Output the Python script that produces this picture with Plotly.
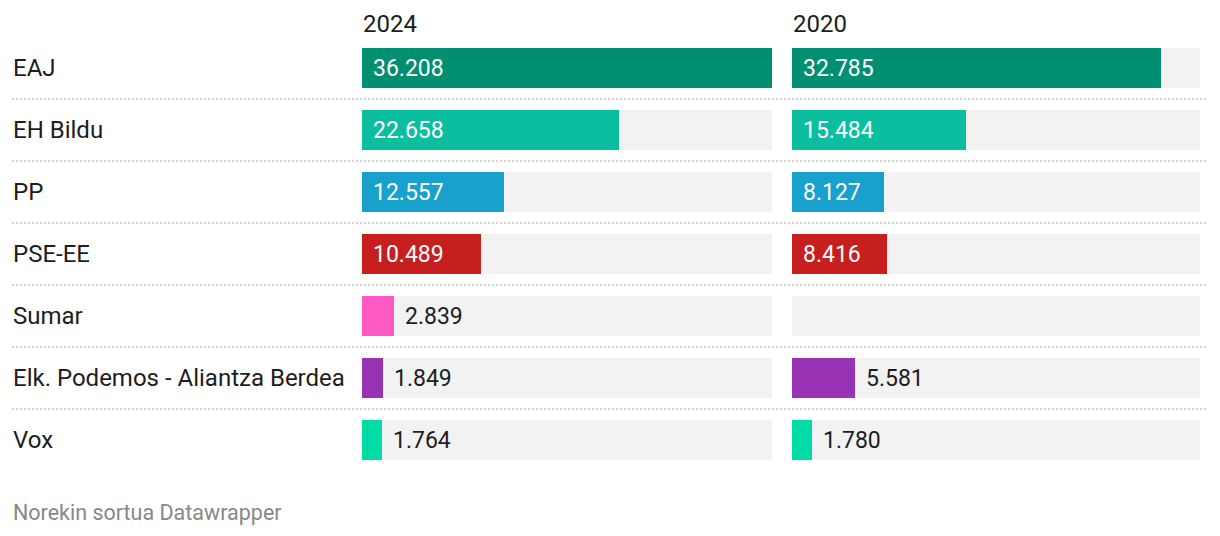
import plotly.graph_objects as go

parties = ["EAJ", "EH Bildu", "PP", "PSE-EE", "Sumar", "Elk. Podemos - Aliantza Berdea", "Vox"]
votes_2024 = [36208, 22658, 12557, 10489, 2839, 1849, 1764]
votes_2020 = [32785, 15484, 8127, 8416, None, 5581, 1780]
colors = ["#008f70", "#0bbea0", "#18a1cd", "#c71e1e", "#ff5ac4", "#9933b5", "#00dca6"]
years = ["2024", "2020"]
footer = "Norekin sortua Datawrapper"

OFF = 8  # page body margin
W, H = 1220 - OFF, 536 - OFF
FONT = "Roboto"
TXT = "#1d1d1d"
vmax = max(v for v in votes_2024 + votes_2020 if v is not None)

def px(x):
    return (x - OFF) / W

def fmt(v):
    return f"{v:,}".replace(",", ".")

rows = list(range(len(parties)))
fig = go.Figure()

panels = [("x", "y", votes_2024, [px(362), px(772)]), ("x2", "y", votes_2020, [px(792), px(1200)])]
annotations = []
for (xa, ya, vals, dom), year in zip(panels, years):
    fig.add_trace(go.Bar(
        y=rows, x=[vmax] * len(rows), orientation="h", xaxis=xa, yaxis=ya,
        marker=dict(color="#f2f2f2", line=dict(width=0)), width=0.645,
        hoverinfo="skip", showlegend=False))
    fig.add_trace(go.Bar(
        y=rows, x=[v if v is not None else 0 for v in vals], orientation="h", xaxis=xa, yaxis=ya,
        marker=dict(color=colors, line=dict(width=0)), width=0.645,
        hoverinfo="skip", showlegend=False))
    for r, v in zip(rows, vals):
        if v is None:
            continue
        inside = v > 7000
        annotations.append(dict(
            x=0 if inside else v, y=r, xref=xa, yref=ya, xanchor="left", yanchor="middle",
            xshift=9, text=fmt(v), showarrow=False,
            font=dict(family=FONT, size=23, color="#ffffff" if inside else TXT)))
    annotations.append(dict(
        x=dom[0], y=-0.71, xref="paper", yref=ya, xanchor="left", yanchor="middle", xshift=-1,
        text=year, showarrow=False, font=dict(family=FONT, size=24, color=TXT)))

for r, p in zip(rows, parties):
    annotations.append(dict(
        x=px(12), y=r, xref="paper", yref="y", xanchor="left", yanchor="middle", xshift=-1,
        text=p, showarrow=False, font=dict(family=FONT, size=24, color=TXT)))

annotations.append(dict(
    x=px(12), y=1 - (512 - OFF) / H, xref="paper", yref="paper", xanchor="left", yanchor="middle",
    xshift=-1, text=footer, showarrow=False, font=dict(family=FONT, size=21.5, color="#888888")))

shapes = []
for r in rows[:-1]:
    shapes.append(dict(type="line", xref="paper", yref="y", x0=px(12), x1=px(1208),
                       y0=r + 0.5, y1=r + 0.5,
                       line=dict(color="#d2d2d2", width=2, dash="2px,2px")))

y_top = -(68 - OFF) / 62
y_bot = y_top + H / 62
fig.update_layout(
    width=W, height=H, margin=dict(l=0, r=0, t=0, b=0),
    paper_bgcolor="white", plot_bgcolor="white",
    barmode="overlay", bargap=0,
    xaxis=dict(domain=panels[0][3], range=[0, vmax], visible=False, fixedrange=True),
    xaxis2=dict(domain=panels[1][3], range=[0, vmax], visible=False, fixedrange=True),
    yaxis=dict(domain=[0, 1], range=[y_bot, y_top], visible=False, fixedrange=True),
    annotations=annotations, shapes=shapes,
    font=dict(family=FONT),
)
fig.write_html("out.html")
